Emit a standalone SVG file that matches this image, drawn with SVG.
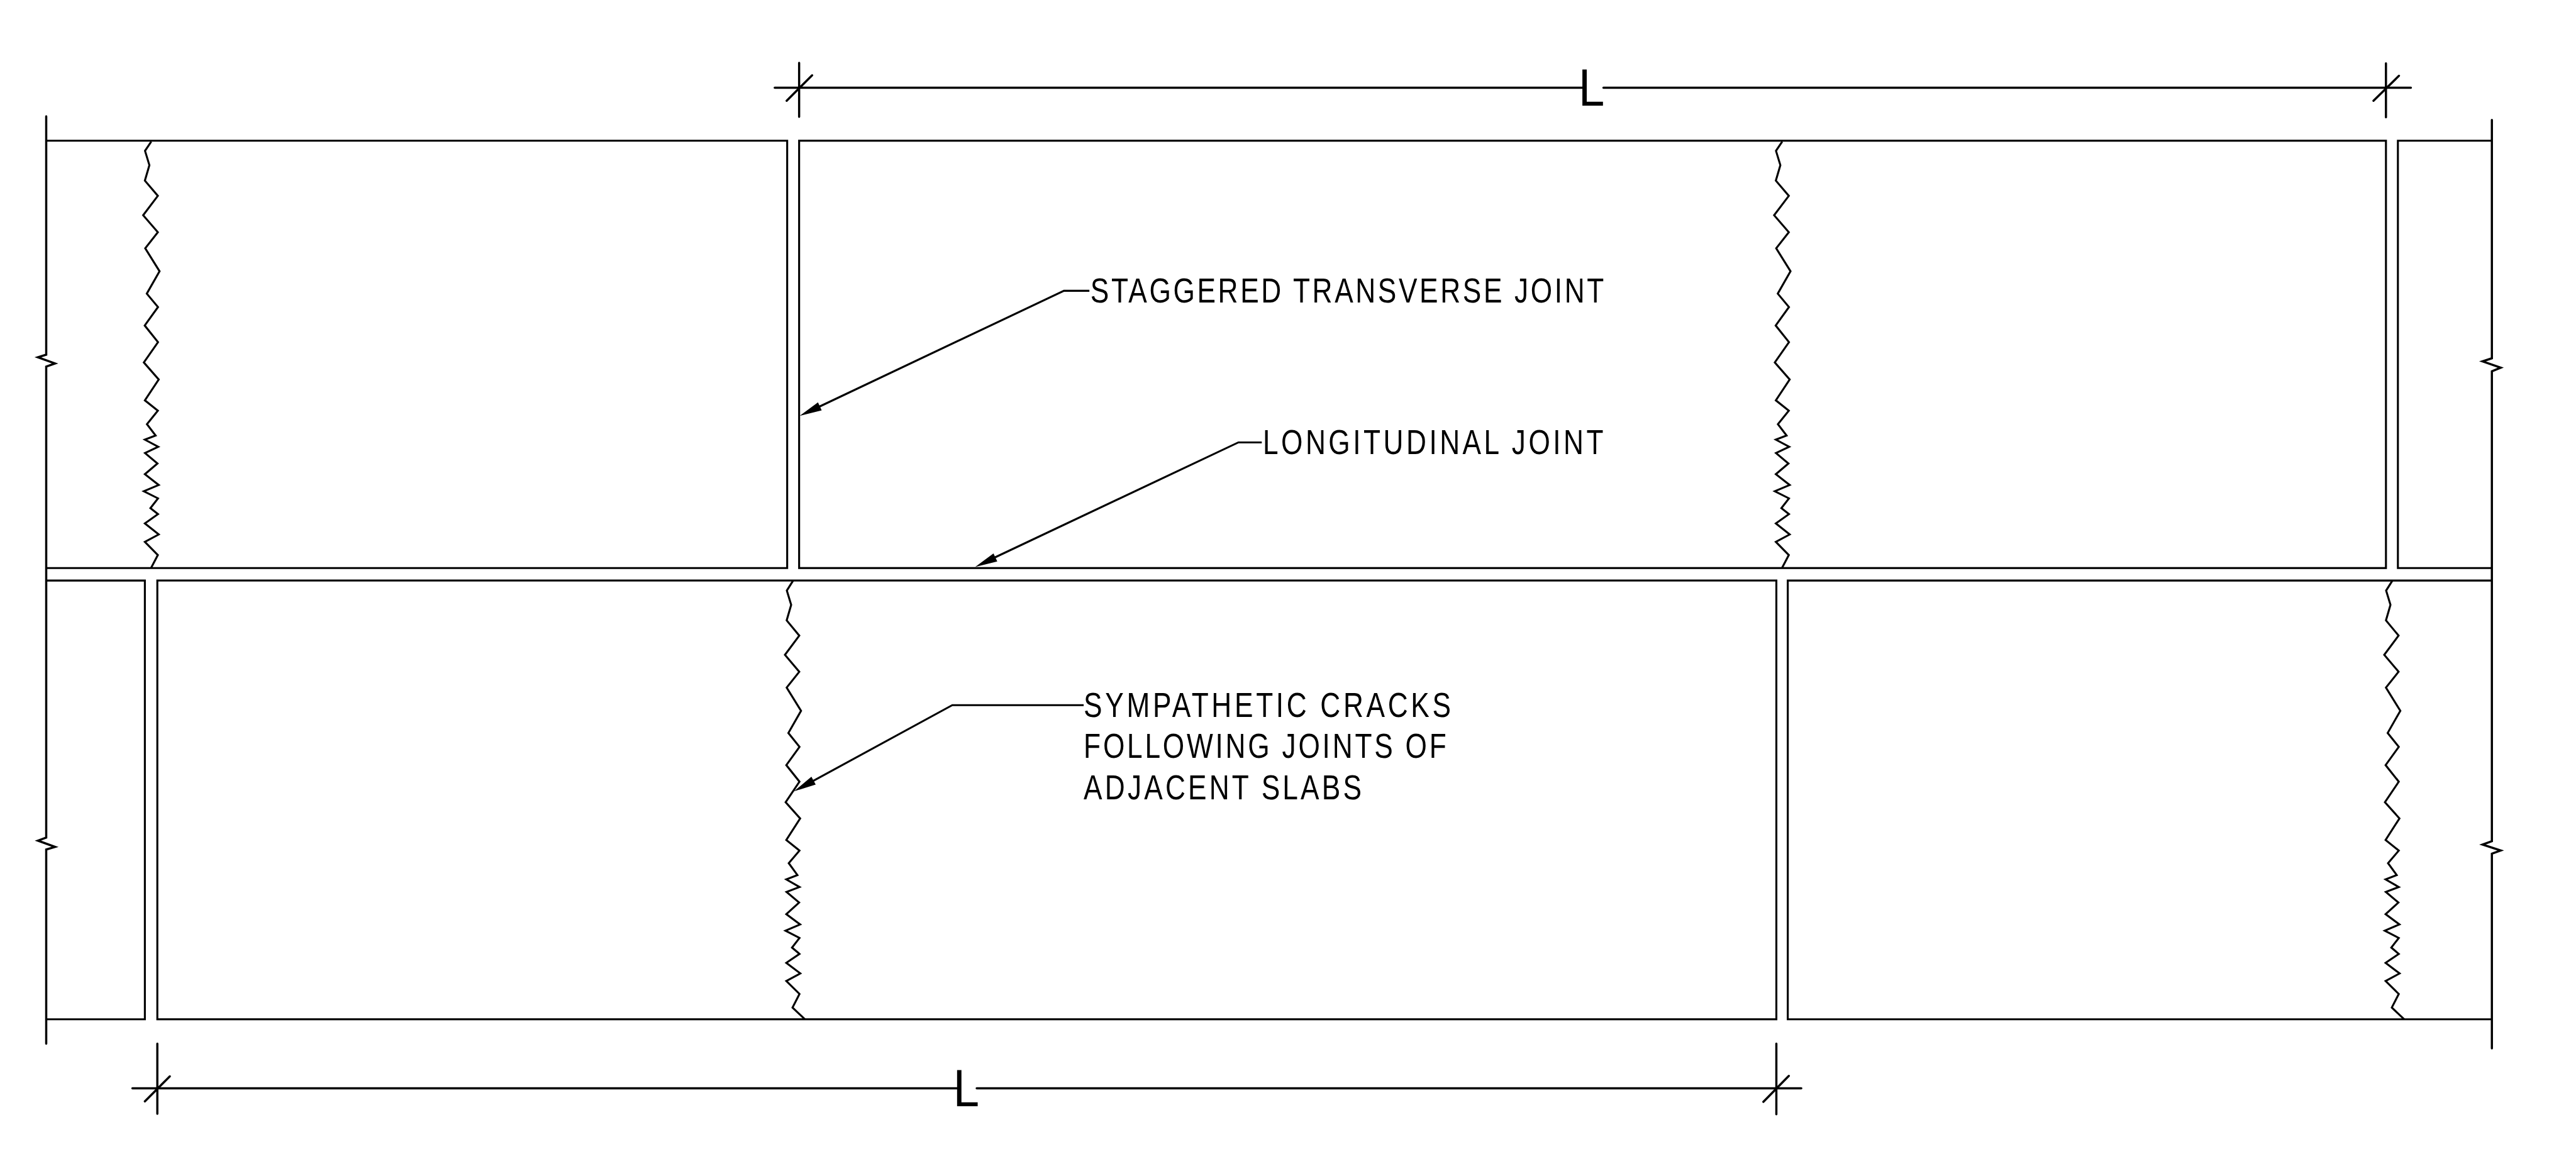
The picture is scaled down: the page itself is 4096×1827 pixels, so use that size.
<svg xmlns="http://www.w3.org/2000/svg" width="4096" height="1827" viewBox="0 0 4096 1827">
<style>
.ln{fill:none;stroke:#000;stroke-width:3.8;stroke-linejoin:miter;stroke-linecap:butt}
.dm{fill:none;stroke:#000;stroke-width:4.2;stroke-linecap:round}
.ah{fill:#000;stroke:none}
.tx{font-family:"Liberation Sans",Arial,sans-serif;font-size:67px;fill:#000}
.big{font-family:"Liberation Sans",Arial,sans-serif;font-size:100px;fill:#000}
</style>
<defs>
<path id="crack-upper" class="ln" d="M3432.3 272.7L3420.3 290.5 3428.7 318.1 3420 347.9 3445 377.2 3416.7 414.5 3445 447.2 3420.7 478.2 3448.3 522.4 3423.7 565.5 3445.3 591.3 3419.7 626.9 3445.3 659 3418 698 3446.7 730.8 3420 771 3445 791 3424 816.9 3440.7 838.7 3420 846.7 3445.7 860.5 3420.3 872.5 3444.3 892.6 3420 913.3 3446.7 934 3418 946 3445.3 959.8 3430.7 978.7 3445.3 990.2 3420 1008 3446.7 1029.3 3420 1043.6 3445 1068.9 3432.3 1093"/>
<path id="crack-lower" class="ln" d="M4607.3 1118.3L4595.3 1137.4 4603.7 1164.8 4595 1194.8 4619.3 1224.1 4591.7 1261.1 4619.3 1293.7 4595 1324.3 4622.7 1368.9 4598.3 1411.7 4619.7 1438.4 4594.3 1473.5 4619.7 1505.4 4593 1545 4621 1576.2 4594.3 1617.7 4619.7 1638.1 4599 1662.3 4615.7 1685.3 4594.3 1693.6 4619.7 1708.2 4594.7 1717.8 4619 1738.2 4594.3 1760.5 4621 1780.3 4592.7 1792.4 4619.7 1806.4 4605.3 1824.9 4619.7 1837.1 4594.3 1854.3 4621.3 1874.7 4594.3 1889.4 4619.7 1914.2 4606.3 1940.4 4630.3 1963.3"/>
</defs>
<rect width="4096" height="1827" fill="#fff"/>
<g transform="scale(0.82564)">
<g id="slab-upper-left"><path class="ln" d="M89 271H1516V1094H89"/></g>
<g id="slab-upper-middle"><rect class="ln" x="1539" y="271" width="3056" height="823"/></g>
<g id="slab-upper-right"><path class="ln" d="M4799 271H4618V1094H4799"/></g>
<g id="slab-lower-left"><path class="ln" d="M89 1118H279V1963H89"/></g>
<g id="slab-lower-middle"><rect class="ln" x="303" y="1118" width="3118" height="845"/></g>
<g id="slab-lower-right"><path class="ln" d="M4799 1118H3443V1963H4799"/></g>
<g id="edge-left"><path class="dm" d="M89 224V683L73 688 106 700 89 706V1613L73 1619 106 1631 89 1636V2010"/></g>
<g id="edge-right"><path class="dm" d="M4799 231V690L4781 696 4816 708 4799 715V1620L4781 1626.5 4816 1638 4799 1644V2019"/></g>
<g id="crack-1"><use href="#crack-upper" x="-3141"/></g>
<g id="crack-2"><use href="#crack-upper"/></g>
<g id="crack-3"><use href="#crack-lower" x="-3080"/></g>
<g id="crack-4"><use href="#crack-lower"/></g>
<g id="connectors">
<path class="dm" d="M1492 169H3050M3088 169H4643"/>
<path class="dm" d="M1539 121V225M1515 194L1564 145M4595 122V226M4571 194L4620 146"/>
<path class="dm" d="M255 2096H1843M1881 2096H3469"/>
<path class="dm" d="M303 2010V2145M279 2121L327 2073M3421 2010V2146M3396 2122L3445 2072"/>
<path class="ln" d="M2098 560H2049L1575 784.5"/>
<polygon class="ah" points="1540,801 1575.3,774.9 1582.5,790.3"/>
<path class="ln" d="M2430 852H2385L1915 1074"/>
<polygon class="ah" points="1878,1092 1913.3,1065.9 1920.6,1081.3"/>
<path class="ln" d="M2087 1358H1834L1564 1505"/>
<polygon class="ah" points="1529,1524 1562.7,1495.9 1570.9,1510.9"/>
</g>
<g id="label-staggered"><text class="tx" transform="translate(2100 582) scale(.8 1)" textLength="1236" lengthAdjust="spacing">STAGGERED TRANSVERSE JOINT</text></g>
<g id="label-longitudinal"><text class="tx" transform="translate(2432 874) scale(.8 1)" textLength="820" lengthAdjust="spacing">LONGITUDINAL JOINT</text></g>
<g id="label-sympathetic">
<text class="tx" transform="translate(2087 1381) scale(.8 1)" textLength="884" lengthAdjust="spacing">SYMPATHETIC CRACKS</text>
<text class="tx" transform="translate(2087 1460) scale(.8 1)" textLength="873" lengthAdjust="spacing">FOLLOWING JOINTS OF</text>
<text class="tx" transform="translate(2087 1539) scale(.8 1)" textLength="669" lengthAdjust="spacing">ADJACENT SLABS</text>
</g>
<g id="label-l-top"><text class="big" x="3040" y="203" textLength="50" lengthAdjust="spacingAndGlyphs">L</text></g>
<g id="label-l-bottom"><text class="big" x="1836" y="2130" textLength="50" lengthAdjust="spacingAndGlyphs">L</text></g>
</g>
</svg>
